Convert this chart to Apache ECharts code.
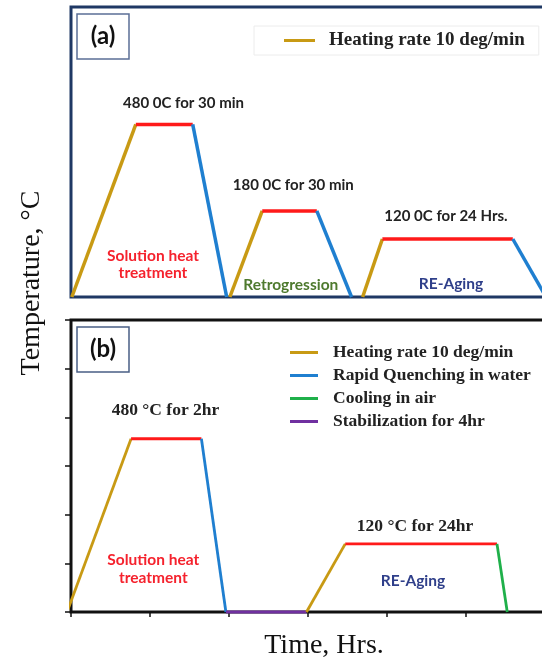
<!DOCTYPE html>
<html>
<head>
<meta charset="utf-8">
<script src="https://cdn.jsdelivr.net/npm/echarts@6/dist/echarts.min.js"></script>
<style>
html, body { margin: 0; padding: 0; background: #fff; }
#chart { width: 542px; height: 662px; }
</style>
</head>
<body>
<div id="chart"></div>
<script>
// panel (a): solution treatment, retrogression, re-aging
var aTime = [0.01, 0.82, 1.54, 1.97, 2.01, 2.42, 3.11, 3.55, 3.69, 3.94, 5.59, 6.01];
var aTemp = [0, 3.57, 3.57, 0, 0, 1.78, 1.78, 0, 0, 1.2, 1.2, 0];
var aStage = ['heat', 'hold', 'quench', '', 'heat', 'hold', 'quench', '', 'heat', 'hold', 'quench'];

// panel (b): solution treatment, stabilization, re-aging
var bTime = [-0.05, 0.76, 1.65, 1.96, 2.98, 3.47, 5.39, 5.52];
var bTemp = [0, 3.56, 3.56, 0, 0, 1.4, 1.4, 0];
var bStage = ['heat', 'hold', 'quench', 'stabilize', 'heat', 'hold', 'cool'];

var stageNames = {
  heat: 'Heating rate 10 deg/min',
  quench: 'Rapid Quenching in water',
  cool: 'Cooling in air',
  stabilize: 'Stabilization for 4hr',
  hold: 'Holding'
};
var stageColors = {
  heat: '#c89a14',
  quench: '#1f7fd0',
  cool: '#1fb04a',
  stabilize: '#7030a0',
  hold: '#ff1a1a'
};
var legendB = ['Heating rate 10 deg/min', 'Rapid Quenching in water', 'Cooling in air', 'Stabilization for 4hr'];

var chart = echarts.init(document.getElementById('chart'), null, {renderer: 'canvas'});

function segments(times, temps, stages, idx, width) {
  var out = [];
  for (var i = 0; i < stages.length; i++) {
    var s = stages[i];
    if (!s) continue;
    out.push({
      type: 'line',
      name: stageNames[s],
      xAxisIndex: idx,
      yAxisIndex: idx,
      data: [[times[i], temps[i]], [times[i + 1], temps[i + 1]]],
      symbol: 'none',
      clip: false,
      animation: false,
      itemStyle: {color: stageColors[s]},
      lineStyle: {color: stageColors[s], width: width},
      z: 3
    });
  }
  return out;
}

var serif = '"Liberation Serif", "Times New Roman", serif';
var sans = 'Lato, "Open Sans", sans-serif';

function note(x, y, text, color, font, size, weight, lh) {
  return {
    type: 'text', x: x, y: y, z: 10,
    style: {
      text: text, fill: color, font: (weight || 'bold') + ' ' + size + 'px ' + font,
      align: 'center', verticalAlign: 'middle', lineHeight: lh || size
    }
  };
}

var option = {
  backgroundColor: '#fff',
  animation: false,
  grid: [
    {left: 71, top: 7, width: 490, height: 290, outerBoundsMode: 'none', show: true,
     borderColor: '#1f3864', borderWidth: 3, backgroundColor: '#fff'},
    {left: 71, top: 320, width: 490, height: 292, outerBoundsMode: 'none', show: true,
     borderColor: '#111', borderWidth: 3, backgroundColor: '#fff'}
  ],
  xAxis: [
    {type: 'value', gridIndex: 0, min: 0, max: 6.2, axisLine: {show: false}, axisTick: {show: false},
     axisLabel: {show: false}, splitLine: {show: false}},
    {type: 'value', gridIndex: 1, min: 0, max: 6.2, interval: 1, axisLine: {show: false},
     axisTick: {show: true, length: 5, lineStyle: {color: '#111', width: 1.5}},
     axisLabel: {show: false}, splitLine: {show: false}}
  ],
  yAxis: [
    {type: 'value', gridIndex: 0, min: 0, max: 6, axisLine: {show: false}, axisTick: {show: false},
     axisLabel: {show: false}, splitLine: {show: false}},
    {type: 'value', gridIndex: 1, min: 0, max: 6, interval: 1, axisLine: {show: false},
     axisTick: {show: true, length: 6, lineStyle: {color: '#111', width: 1.5}},
     axisLabel: {show: false}, splitLine: {show: false}}
  ],
  legend: [
    {data: ['Heating rate 10 deg/min'], left: 254, top: 26, orient: 'vertical',
     padding: [5, 14, 5, 30], borderColor: '#ececec', borderWidth: 1,
     icon: 'rect', itemWidth: 31, itemHeight: 3, selectedMode: false,
     textStyle: {fontFamily: serif, fontWeight: 'bold', fontSize: 19, color: '#222', padding: [0, 0, 0, 9], lineHeight: 19}},
    {data: legendB, left: 290, top: 343.5, orient: 'vertical', padding: 0, itemGap: 5,
     icon: 'rect', itemWidth: 28, itemHeight: 3, selectedMode: false,
     textStyle: {fontFamily: serif, fontWeight: 'bold', fontSize: 17.5, color: '#222', padding: [0, 0, 0, 10], lineHeight: 17}}
  ],
  series: segments(aTime, aTemp, aStage, 0, 3.5).concat(segments(bTime, bTemp, bStage, 1, 2.8)),
  graphic: [
    {type: 'rect', shape: {x: 77, y: 14, width: 52, height: 45}, style: {fill: '#fff', stroke: '#5b6f96', lineWidth: 1.5}, z: 10},
    note(103, 36.5, '(a)', '#111', sans, 24),
    {type: 'rect', shape: {x: 77, y: 327, width: 52, height: 45}, style: {fill: '#fff', stroke: '#4a5f85', lineWidth: 1.5}, z: 10},
    note(103, 349.5, '(b)', '#111', sans, 24),

    note(183.5, 102.7, '480 0C for 30 min', '#222', sans, 15),
    note(293.3, 185, '180 0C for 30 min', '#222', sans, 15),
    note(446, 216, '120 0C for 24 Hrs.', '#222', sans, 15),
    note(153, 264.5, 'Solution heat\ntreatment', '#f5222d', sans, 15.5, 'bold', 17.6),
    note(290.8, 285, 'Retrogression', '#4e7a2e', sans, 15.5),
    note(451, 284.3, 'RE-Aging', '#2f3f8a', sans, 15.5),

    note(165.5, 410, '480 °C for 2hr', '#222', serif, 17.5),
    note(415, 526, '120 °C for 24hr', '#222', serif, 17.5),
    note(153.3, 569, 'Solution heat\ntreatment', '#f5222d', sans, 15.5, 'bold', 17.6),
    note(413, 580.7, 'RE-Aging', '#2f3f8a', sans, 15.5),

    {type: 'text', x: 32, y: 283, rotation: Math.PI / 2, z: 10,
     style: {text: 'Temperature, °C', fill: '#111', font: '28px ' + serif, align: 'center', verticalAlign: 'middle'}},
    note(324, 646, 'Time, Hrs.', '#111', serif, 28, 'normal')
  ]
};
chart.setOption(option);
</script>
</body>
</html>
